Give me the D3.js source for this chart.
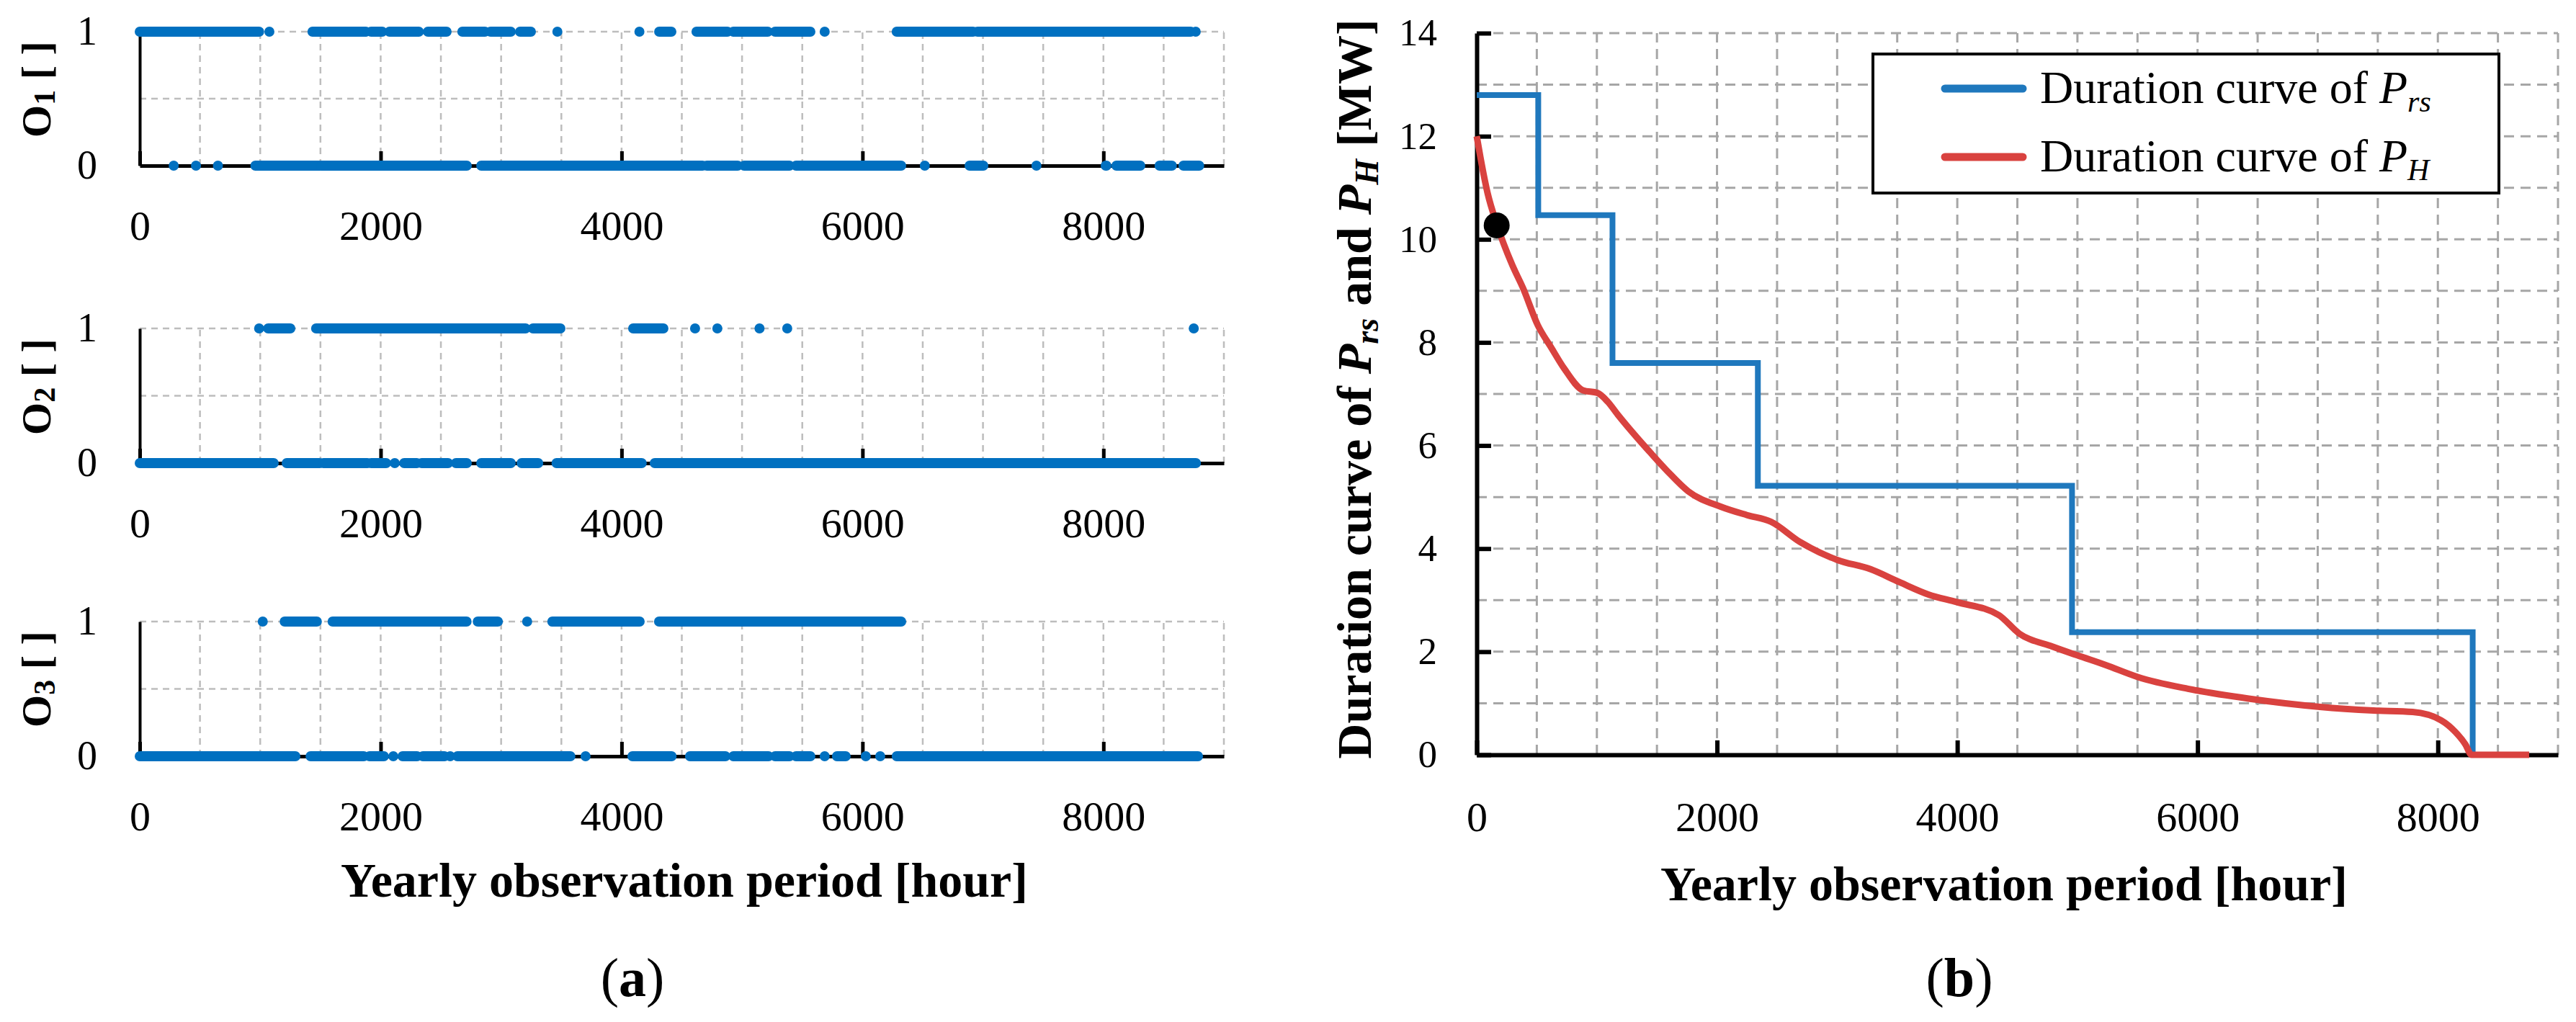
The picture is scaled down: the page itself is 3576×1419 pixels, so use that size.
<!DOCTYPE html>
<html>
<head>
<meta charset="utf-8">
<script src="https://cdn.jsdelivr.net/npm/d3@7.9.0/dist/d3.min.js"></script>
<style>
  body { margin: 0; background: #fff; }
  text { font-family: "Liberation Serif", "Times New Roman", serif; }
</style>
</head>
<body>
<svg id="chart"></svg>
<script>
// (a) hours where each operating signal sits at 1 or at 0, read as runs [from, to]
const o1On = [[0, 991], [1076, 1076], [1434, 1876], [1920, 2013], [2073, 2317], [2392, 2547], [2678, 2866],
  [2912, 3080], [3157, 3247], [3467, 3467], [4148, 4148], [4312, 4413], [4622, 4879], [4928, 5214],
  [5274, 5567], [5686, 5686], [6284, 6918], [6954, 8725], [8766, 8766]];
const o1Off = [[282, 282], [467, 467], [649, 649], [960, 1495], [1508, 2715], [2835, 4672], [4707, 4964],
  [5017, 5394], [5448, 6321], [6517, 6517], [6889, 7003], [7444, 7444], [8019, 8025], [8108, 8306],
  [8466, 8568], [8664, 8795]];
const o2On = [[991, 991], [1066, 1250], [1464, 3203], [3264, 3492], [4096, 4347], [4610, 4610],
  [4795, 4795], [5145, 5145], [5375, 5375], [8750, 8750]];
const o2Off = [[0, 1112], [1220, 1495], [1525, 1890], [1920, 2045], [2117, 2117], [2195, 2300],
  [2340, 2560], [2625, 2715], [2835, 3080], [3170, 3308], [3460, 4167], [4275, 8768]];
const o3On = [[1021, 1021], [1203, 1470], [1601, 2713], [2806, 2973], [3216, 3216], [3425, 4150],
  [4311, 6321]];
const o3Off = [[0, 1292], [1418, 1860], [1907, 2027], [2105, 2105], [2182, 2302], [2350, 2530],
  [2577, 2577], [2637, 3575], [3701, 3701], [4090, 4415], [4568, 4862], [4928, 5220], [5274, 5394],
  [5448, 5567], [5686, 5686], [5788, 5860], [6027, 6027], [6147, 6147], [6284, 8785]];

// (b) duration curves
const prsHours = [0, 512, 1130, 2340, 4955, 8290];
const prsValues = [12.8, 10.47, 7.6, 5.22, 2.38, 0];
const phCurve = [[0, 12.0], [30, 11.6], [90, 10.9], [166, 10.3], [296, 9.5], [386, 9.05], [507, 8.34],
  [620, 7.9], [729, 7.49], [885, 7.07], [1005, 7.02], [1090, 6.85], [1177, 6.59], [1317, 6.2],
  [1450, 5.85], [1592, 5.49], [1761, 5.11], [2035, 4.81], [2250, 4.65], [2450, 4.52], [2690, 4.13],
  [3002, 3.78], [3278, 3.6], [3518, 3.35], [3760, 3.11], [4000, 2.96], [4345, 2.71], [4517, 2.35],
  [4792, 2.1], [4998, 1.93], [5237, 1.74], [5502, 1.51], [5920, 1.28], [6425, 1.09], [7018, 0.93],
  [7464, 0.86], [7790, 0.83], [8027, 0.67], [8147, 0.44], [8230, 0.2], [8280, 0], [8760, 0]];
const marker = [166, 10.27];

const hourTicks = [0, 2000, 4000, 6000, 8000];
const levelTicks = [0, 1];
const mwTicks = [0, 2, 4, 6, 8, 10, 12, 14];

const width = 3576, height = 1419;
const font = '"Liberation Serif", "Times New Roman", serif';
const blueDots = '#0070c0';
const fmt = d3.format('d');

const svg = d3.select('#chart').attr('width', width).attr('height', height);

function styleAxis(g, size, lineWidth) {
  g.attr('font-family', font).attr('font-size', size);
  g.select('.domain').attr('stroke', '#000').attr('stroke-width', lineWidth);
  g.selectAll('.tick line').attr('stroke', '#000').attr('stroke-width', lineWidth);
  g.selectAll('.tick text').attr('fill', '#000');
}

// ---------- panel (a) ----------
const xA = d3.scaleLinear().domain([0, 9000]).range([194, 1699]);
const gridA = d3.range(500, 9001, 500);

const subplots = [
  { sub: '1', on: o1On, off: o1Off, y0: 230, y1: 44, labelY: 124 },
  { sub: '2', on: o2On, off: o2Off, y0: 643, y1: 456, labelY: 537 },
  { sub: '3', on: o3On, off: o3Off, y0: 1050, y1: 863, labelY: 943 },
];

subplots.forEach((sp) => {
  const y = d3.scaleLinear().domain([0, 1]).range([sp.y0, sp.y1]);
  const g = svg.append('g');

  g.append('g').selectAll('line').data(gridA).join('line')
    .attr('x1', (d) => xA(d)).attr('x2', (d) => xA(d))
    .attr('y1', y(0)).attr('y2', y(1))
    .attr('stroke', '#bdbdbd').attr('stroke-width', 2.5).attr('stroke-dasharray', '9,7');

  g.append('g').selectAll('line').data([0.5, 1]).join('line')
    .attr('x1', xA(0)).attr('x2', xA(9000))
    .attr('y1', (d) => y(d)).attr('y2', (d) => y(d))
    .attr('stroke', '#bdbdbd').attr('stroke-width', 2.5).attr('stroke-dasharray', '9,7');

  g.append('g')
    .attr('transform', `translate(0, ${y(0)})`)
    .call(d3.axisBottom(xA).tickValues(hourTicks).tickFormat(fmt)
      .tickSize(-20).tickSizeOuter(0).tickPadding(62))
    .call((ax) => styleAxis(ax, 58, 5));

  g.append('g')
    .attr('transform', `translate(${xA(0)}, 0)`)
    .call(d3.axisLeft(y).tickValues(levelTicks).tickFormat(fmt)
      .tickSize(0).tickSizeOuter(0).tickPadding(59))
    .call((ax) => styleAxis(ax, 56, 4));

  // runs of hourly points, drawn as merged round dots
  [[sp.on, 1], [sp.off, 0]].forEach(([runs, level]) => {
    g.append('g').selectAll('rect').data(runs).join('rect')
      .attr('x', (d) => xA(d[0]) - 7)
      .attr('width', (d) => xA(d[1]) - xA(d[0]) + 14)
      .attr('y', y(level) - 7)
      .attr('height', 14)
      .attr('rx', 7)
      .attr('fill', blueDots);
  });

  const label = g.append('text')
    .attr('transform', `translate(70, ${sp.labelY}) rotate(-90)`)
    .attr('text-anchor', 'middle')
    .attr('font-size', 58)
    .attr('font-weight', 'bold');
  label.append('tspan').text('O');
  label.append('tspan').attr('font-size', 42).attr('dy', 6).text(sp.sub);
  label.append('tspan').attr('dy', -6).text(' [ ]');
});

svg.append('text')
  .attr('x', 950).attr('y', 1245)
  .attr('text-anchor', 'middle')
  .attr('font-size', 68).attr('font-weight', 'bold')
  .text('Yearly observation period [hour]');

// ---------- panel (b) ----------
const xB = d3.scaleLinear().domain([0, 9000]).range([2050, 3551]);
const yB = d3.scaleLinear().domain([0, 14]).range([1048, 46]);
const gB = svg.append('g');

gB.append('g').selectAll('line').data(d3.range(500, 9001, 500)).join('line')
  .attr('x1', (d) => xB(d)).attr('x2', (d) => xB(d))
  .attr('y1', yB(0)).attr('y2', yB(14))
  .attr('stroke', '#a6a6a6').attr('stroke-width', 3).attr('stroke-dasharray', '14,9');

gB.append('g').selectAll('line').data(d3.range(1, 15)).join('line')
  .attr('x1', xB(0)).attr('x2', xB(9000))
  .attr('y1', (d) => yB(d)).attr('y2', (d) => yB(d))
  .attr('stroke', '#a6a6a6').attr('stroke-width', 3).attr('stroke-dasharray', '14,9');

gB.append('g')
  .attr('transform', `translate(0, ${yB(0)})`)
  .call(d3.axisBottom(xB).tickValues(hourTicks).tickFormat(fmt)
    .tickSize(-20).tickSizeOuter(0).tickPadding(65))
  .call((ax) => styleAxis(ax, 58, 6));

gB.append('g')
  .attr('transform', `translate(${xB(0)}, 0)`)
  .call(d3.axisLeft(yB).tickValues(mwTicks).tickFormat(fmt)
    .tickSize(-20).tickSizeOuter(0).tickPadding(55))
  .call((ax) => styleAxis(ax, 53, 6));

const prsPoints = prsHours.map((h, i) => [h, prsValues[i]]);

gB.append('path')
  .datum(prsPoints)
  .attr('d', d3.line().x((d) => xB(d[0])).y((d) => yB(d[1])).curve(d3.curveStepAfter))
  .attr('fill', 'none').attr('stroke', '#1f78bd').attr('stroke-width', 8);

gB.append('path')
  .datum(phCurve)
  .attr('d', d3.line().x((d) => xB(d[0])).y((d) => yB(d[1])).curve(d3.curveMonotoneX))
  .attr('fill', 'none').attr('stroke', '#d9423f').attr('stroke-width', 9)
  .attr('stroke-linejoin', 'round');

gB.append('circle')
  .attr('cx', xB(marker[0])).attr('cy', yB(marker[1]))
  .attr('r', 18).attr('fill', '#000');

// legend
const legend = gB.append('g');
legend.append('rect')
  .attr('x', 2600).attr('y', 75).attr('width', 869).attr('height', 193)
  .attr('fill', '#fff').attr('stroke', '#000').attr('stroke-width', 4);

const legendItems = [
  { sub: 'rs', color: '#1f78bd', y: 143 },
  { sub: 'H', color: '#d9423f', y: 238 },
];
legendItems.forEach((it) => {
  legend.append('line')
    .attr('x1', 2700).attr('x2', 2808)
    .attr('y1', it.y - 20).attr('y2', it.y - 20)
    .attr('stroke', it.color).attr('stroke-width', 11).attr('stroke-linecap', 'round');
  const t = legend.append('text').attr('x', 2832).attr('y', it.y).attr('font-size', 64);
  t.append('tspan').text('Duration curve of ');
  t.append('tspan').attr('font-style', 'italic').text('P');
  t.append('tspan').attr('font-style', 'italic').attr('font-size', 42).attr('dy', 12).text(it.sub);
});

// y title (b)
const yTitle = svg.append('text')
  .attr('transform', 'translate(1903, 540) rotate(-90)')
  .attr('text-anchor', 'middle')
  .attr('font-size', 68).attr('font-weight', 'bold');
yTitle.append('tspan').text('Duration curve of ');
yTitle.append('tspan').attr('font-style', 'italic').text('P');
yTitle.append('tspan').attr('font-style', 'italic').attr('font-size', 46).attr('dy', 10).text('rs');
yTitle.append('tspan').attr('dy', -10).text(' and ');
yTitle.append('tspan').attr('font-style', 'italic').text('P');
yTitle.append('tspan').attr('font-style', 'italic').attr('font-size', 46).attr('dy', 10).text('H');
yTitle.append('tspan').attr('dy', -10).text(' [MW]');

svg.append('text')
  .attr('x', 2782).attr('y', 1250)
  .attr('text-anchor', 'middle')
  .attr('font-size', 68).attr('font-weight', 'bold')
  .text('Yearly observation period [hour]');

// panel letters
[['a', 878], ['b', 2720]].forEach(([letter, cx]) => {
  const t = svg.append('text')
    .attr('x', cx).attr('y', 1383)
    .attr('text-anchor', 'middle')
    .attr('font-size', 76);
  t.append('tspan').text('(');
  t.append('tspan').attr('font-weight', 'bold').text(letter);
  t.append('tspan').text(')');
});
</script>
</body>
</html>
